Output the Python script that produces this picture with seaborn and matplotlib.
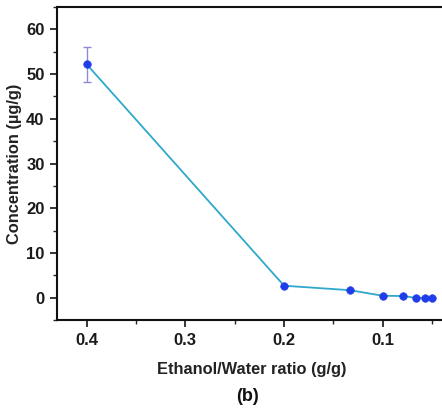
import matplotlib.pyplot as plt
import seaborn as sns
import numpy as np
import pandas as pd
from matplotlib.ticker import MultipleLocator

# 数据
ratio = [0.4, 0.2, 0.1333, 0.1, 0.08, 0.0667, 0.0571, 0.05]
conc = [52.2, 2.7, 1.7, 0.45, 0.4, 0.0, 0.0, 0.0]
conc_err = [3.9, 0, 0, 0, 0, 0, 0, 0]

df = pd.DataFrame({'ratio': ratio, 'conc': conc, 'err': conc_err})

sns.set_style('ticks')
plt.rcParams['font.family'] = ['Liberation Sans', 'DejaVu Sans']
plt.rcParams['font.weight'] = 'bold'

fig = plt.figure(figsize=(4.42, 4.11), dpi=100)
ax = fig.add_axes([0.129, 0.221, 0.88, 0.762])

# 误差棒
ax.errorbar(df['ratio'][:1], df['conc'][:1], yerr=df['err'][:1], fmt='none',
            ecolor='#8a8ad8', elinewidth=1.0, capsize=3, capthick=1.0, zorder=2)

sns.lineplot(data=df, x='ratio', y='conc', ax=ax, color='#2fa8cc', linewidth=1.3,
             sort=False, zorder=3)
sns.scatterplot(data=df, x='ratio', y='conc', ax=ax, color='#1f3de8', s=30,
                edgecolor='#1f3de8', zorder=4)

ax.set_xlim(0.43, 0.036)
ax.set_ylim(-5, 65)
ax.set_xticks([0.4, 0.3, 0.2, 0.1])
ax.set_xticklabels(['0.4', '0.3', '0.2', '0.1'])
ax.xaxis.set_minor_locator(MultipleLocator(0.05))
ax.set_yticks([0, 10, 20, 30, 40, 50, 60])
ax.yaxis.set_minor_locator(MultipleLocator(5))

for s in ax.spines.values():
    s.set_linewidth(1.5)
    s.set_color('#111111')
ax.tick_params(which='major', direction='out', length=5, width=1.3, labelsize=12,
               labelcolor='#1a1a1a', pad=4)
ax.tick_params(which='minor', direction='out', length=3, width=1.0)
for lab in ax.get_xticklabels() + ax.get_yticklabels():
    lab.set_fontweight('bold')

ax.set_xlabel('Ethanol/Water ratio (g/g)', fontsize=11.8, fontweight='bold', labelpad=10,
              color='#222222')
ax.set_ylabel('Concentration (µg/g)', fontsize=11.8, fontweight='bold', labelpad=3,
              color='#222222')

fig.text(0.56, 0.035, '(b)', ha='center', va='center', fontsize=13, fontweight='bold',
         color='#111111')

fig.savefig('out.png', dpi=100)
